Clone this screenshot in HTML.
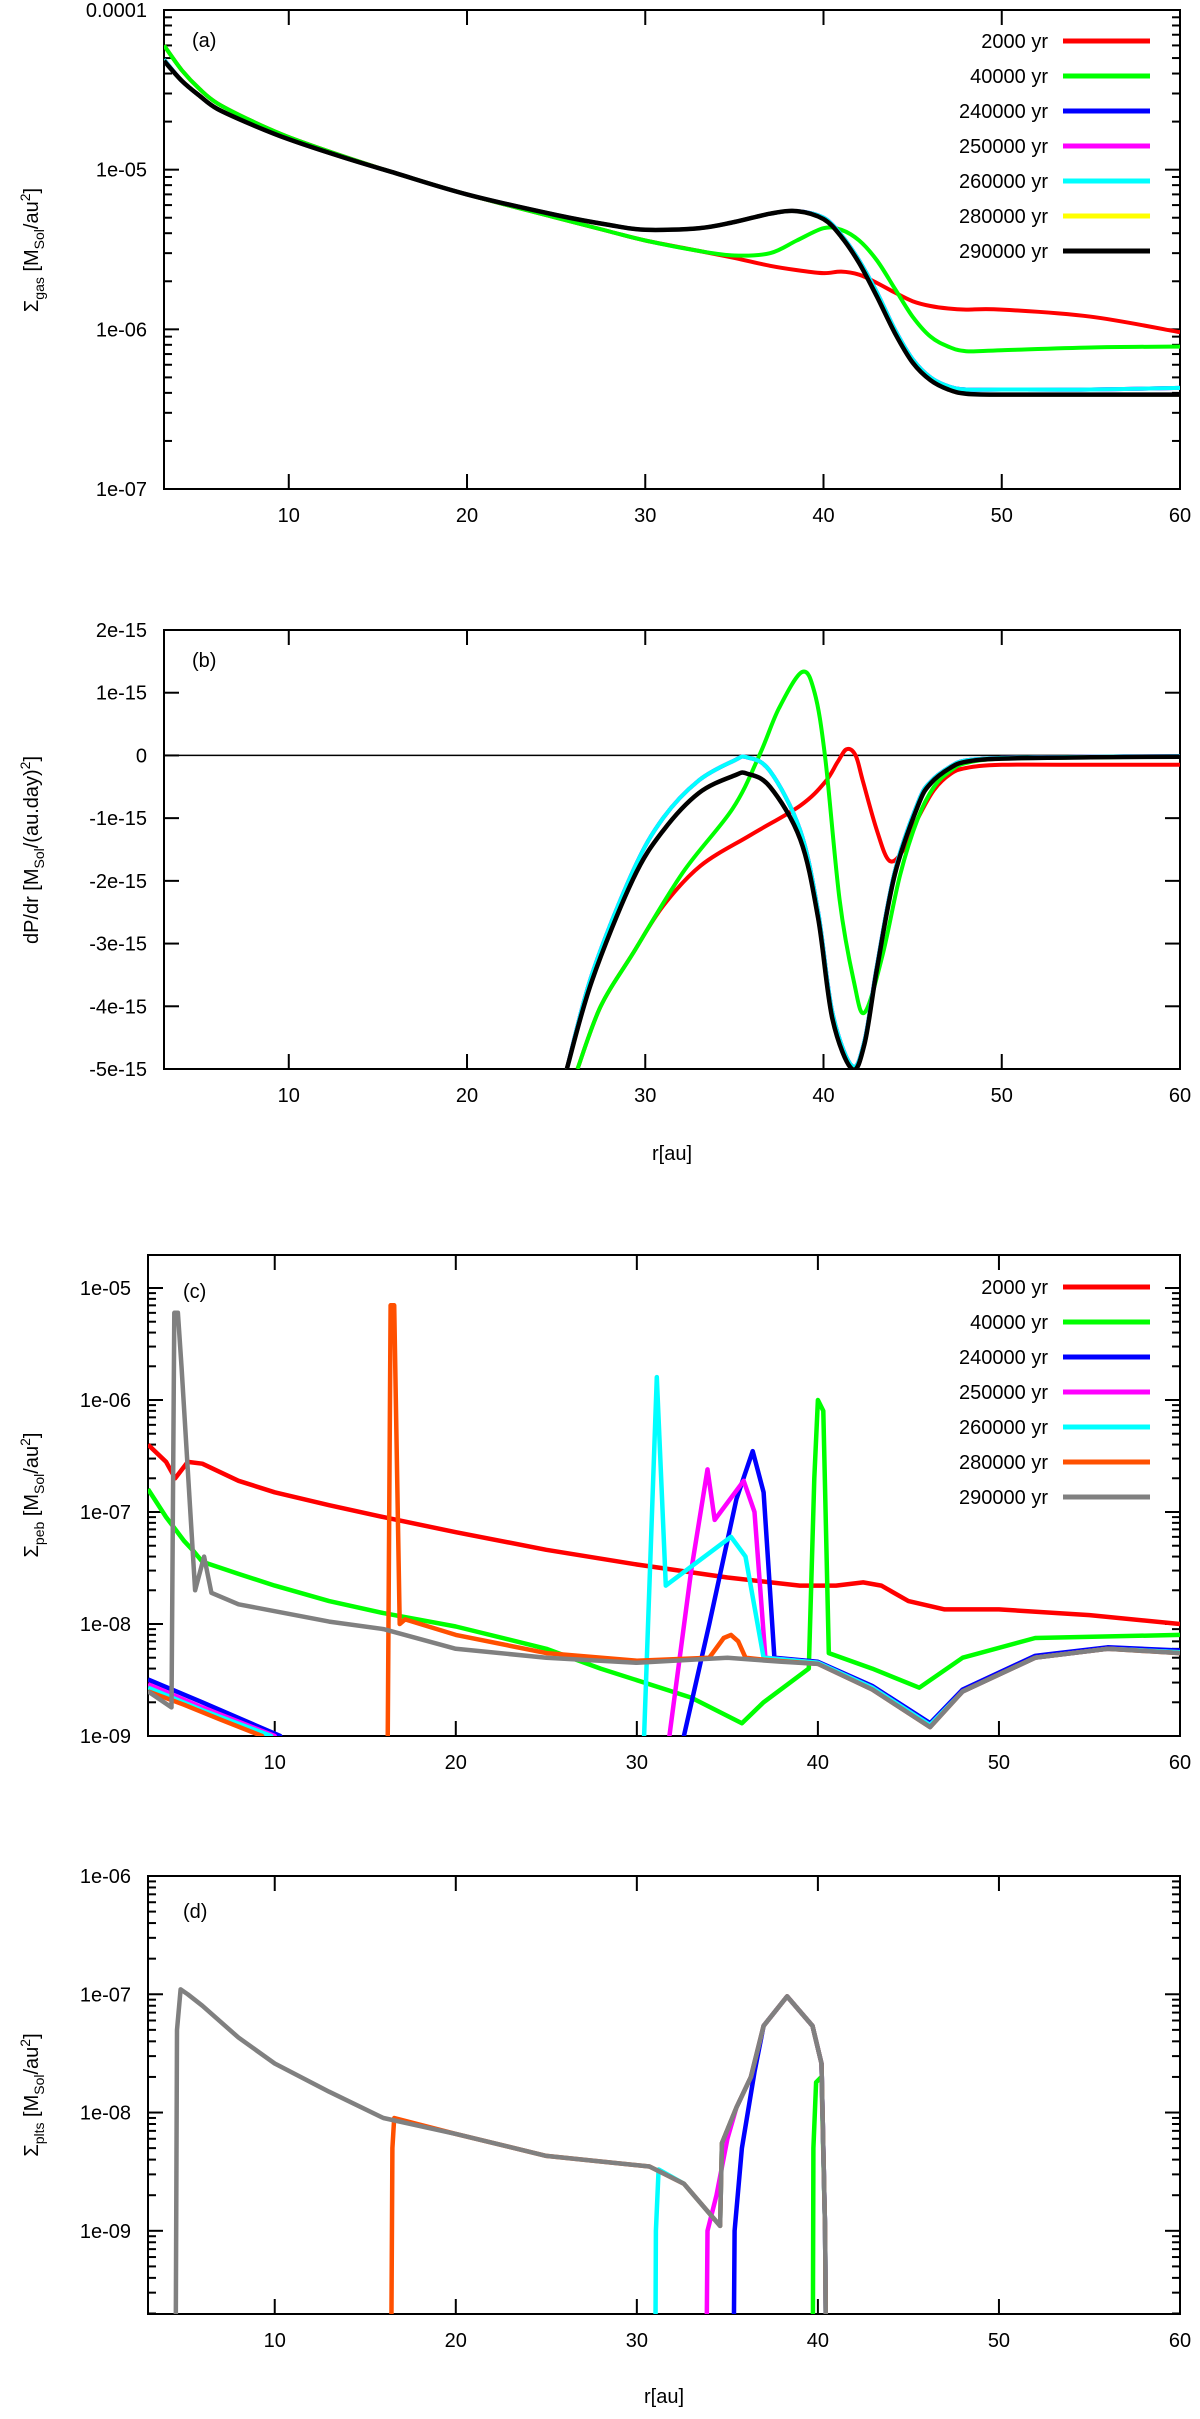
<!DOCTYPE html>
<html>
<head>
<meta charset="utf-8">
<style>
html,body{margin:0;padding:0;background:#fff;}
svg{display:block;font-family:"Liberation Sans",sans-serif;}
</style>
</head>
<body>
<svg id="fig" width="1200" height="2419" viewBox="0 0 1200 2419" xmlns="http://www.w3.org/2000/svg">
<defs>
<clipPath id="clipA"><rect x="164" y="10" width="1016" height="479"/></clipPath>
<clipPath id="clipB"><rect x="164" y="630" width="1016" height="439"/></clipPath>
<clipPath id="clipC"><rect x="148" y="1255" width="1032" height="481"/></clipPath>
<clipPath id="clipD"><rect x="148" y="1876" width="1032" height="438"/></clipPath>
</defs>
<g font-size="20" fill="#000">
<text transform="translate(38,250) rotate(-90)" text-anchor="middle">Σ<tspan font-size="14" dy="6">gas</tspan><tspan dy="-6"> [M</tspan><tspan font-size="14" dy="6">Sol</tspan><tspan dy="-6">/au</tspan><tspan font-size="14" dy="-8">2</tspan><tspan dy="8">]</tspan></text>
<text transform="translate(38,850) rotate(-90)" text-anchor="middle">dP/dr [M<tspan font-size="14" dy="6">Sol</tspan><tspan dy="-6">/(au.day)</tspan><tspan font-size="14" dy="-8">2</tspan><tspan dy="8">]</tspan></text>
<text transform="translate(38,1495) rotate(-90)" text-anchor="middle">Σ<tspan font-size="14" dy="6">peb</tspan><tspan dy="-6"> [M</tspan><tspan font-size="14" dy="6">Sol</tspan><tspan dy="-6">/au</tspan><tspan font-size="14" dy="-8">2</tspan><tspan dy="8">]</tspan></text>
<text transform="translate(38,2095) rotate(-90)" text-anchor="middle">Σ<tspan font-size="14" dy="6">plts</tspan><tspan dy="-6"> [M</tspan><tspan font-size="14" dy="6">Sol</tspan><tspan dy="-6">/au</tspan><tspan font-size="14" dy="-8">2</tspan><tspan dy="8">]</tspan></text>
<text x="672" y="1160" text-anchor="middle">r[au]</text>
<text x="664" y="2403" text-anchor="middle">r[au]</text>
<text x="192" y="47">(a)</text>
<text x="192" y="667">(b)</text>
<text x="183" y="1298">(c)</text>
<text x="183" y="1918">(d)</text>
</g>
</svg>
<script>
// ---- panel (a) gas surface density ----
var aR = [3,4,5,6,8,10,13,16,20,25,28,30,33,35,37,38.5,40,41,42,43,44,45,46,47,48,50,55,60];
var aBlack = [4.8e-5,3.6e-5,2.9e-5,2.4e-5,1.9e-5,1.55e-5,1.2e-5,9.5e-6,7.0e-6,5.2e-6,4.5e-6,4.2e-6,4.3e-6,4.7e-6,5.3e-6,5.5e-6,4.9e-6,3.8e-6,2.6e-6,1.6e-6,9.5e-7,6.2e-7,4.8e-7,4.2e-7,3.95e-7,3.9e-7,3.9e-7,3.9e-7];
var aBlue = [4.9e-5,3.6e-5,2.9e-5,2.4e-5,1.9e-5,1.55e-5,1.2e-5,9.5e-6,7.0e-6,5.2e-6,4.5e-6,4.2e-6,4.3e-6,4.7e-6,5.3e-6,5.5e-6,5.0e-6,3.9e-6,2.7e-6,1.7e-6,1.0e-6,6.5e-7,5.0e-7,4.4e-7,4.2e-7,4.2e-7,4.2e-7,4.3e-7];
var aGreen = [6e-5,4.2e-5,3.2e-5,2.6e-5,2e-5,1.6e-5,1.22e-5,9.5e-6,7.0e-6,5.0e-6,4.1e-6,3.6e-6,3.1e-6,2.9e-6,3.0e-6,3.6e-6,4.3e-6,4.2e-6,3.6e-6,2.7e-6,1.8e-6,1.2e-6,9e-7,7.8e-7,7.3e-7,7.4e-7,7.7e-7,7.8e-7];
var aRed = [6e-5,4.2e-5,3.2e-5,2.6e-5,2e-5,1.6e-5,1.22e-5,9.5e-6,7.0e-6,5.0e-6,4.1e-6,3.6e-6,3.1e-6,2.8e-6,2.5e-6,2.35e-6,2.25e-6,2.3e-6,2.2e-6,1.95e-6,1.7e-6,1.5e-6,1.4e-6,1.35e-6,1.33e-6,1.33e-6,1.2e-6,9.6e-7];
// ---- panel (b) pressure gradient (units of 1e-15) ----
var bBlackR = [25.6,27,29.3,31,33,35,35.7,37,38.7,39.7,40.5,41.6,42.3,43,44,45.3,46,47.1,48,50,55,60];
var bBlack = [-5,-3.6,-1.98,-1.2,-0.6,-0.32,-0.29,-0.5,-1.34,-2.6,-4.2,-5.0,-4.6,-3.4,-1.9,-0.8,-0.45,-0.2,-0.1,-0.05,-0.03,-0.02];
var bBlue = [-5,-3.5,-1.85,-1.0,-0.4,-0.08,-0.03,-0.25,-1.2,-2.5,-4.1,-4.95,-4.55,-3.35,-1.85,-0.75,-0.42,-0.18,-0.08,-0.04,-0.02,-0.01];
var bGreenR = [26.2,27.5,29.3,32.1,34.9,36.4,37.5,38.8,39.5,40.1,40.9,41.7,42.3,43.3,44.3,45.3,46.2,47.1,48,50,55,60];
var bGreen = [-5,-4.0,-3.16,-1.87,-0.85,0,0.75,1.33,1.0,-0.05,-2.3,-3.6,-4.1,-3.2,-1.9,-1.0,-0.5,-0.25,-0.12,-0.05,-0.03,-0.02];
var bRedR = [26.2,27.5,29.3,31,33.1,35.9,38.7,40.1,40.8,41.3,41.8,42.2,43,43.7,44.5,45.3,46.2,47.1,48,50,55,60];
var bRed = [-5,-4.0,-3.16,-2.4,-1.76,-1.27,-0.8,-0.42,-0.1,0.1,0,-0.4,-1.2,-1.68,-1.5,-1.0,-0.55,-0.3,-0.2,-0.15,-0.15,-0.15];
// ---- panel (c) pebble surface density ----
var cRedR = [3,4,4.5,5.2,6,8,10,13,16,20,25,30,35,39,41,42.5,43.5,45,47,50,55,60];
var cRed = [4e-7,2.8e-7,2e-7,2.8e-7,2.7e-7,1.9e-7,1.5e-7,1.15e-7,9e-8,6.6e-8,4.6e-8,3.4e-8,2.6e-8,2.2e-8,2.2e-8,2.35e-8,2.2e-8,1.6e-8,1.35e-8,1.35e-8,1.2e-8,1e-8];
var cGreenR = [3,4,5,5.5,6,8,10,13,16,20,25,28,33,35.8,37,39.5,39.8,40.0,40.3,40.6,43,45.6,48,52,60];
var cGreen = [1.6e-7,9e-8,5.5e-8,4.5e-8,3.6e-8,2.8e-8,2.2e-8,1.6e-8,1.25e-8,9.5e-9,6e-9,4e-9,2.2e-9,1.3e-9,2e-9,4e-9,2e-7,1e-6,8e-7,5.5e-9,4e-9,2.7e-9,5e-9,7.5e-9,8e-9];
var cBlueR = [3,6,10.3,11,32,32.6,34,35.5,36.4,37,37.6,40,43,46.2,48,52,56,60];
var cBlue = [3.2e-9,2e-9,1e-9,1e-10,1e-10,1e-9,1e-8,1.3e-7,3.5e-7,1.5e-7,5e-9,4.6e-9,2.8e-9,1.3e-9,2.6e-9,5.2e-9,6.2e-9,5.8e-9];
var cMagentaR = [3,6,10,10.6,31.5,31.8,33,33.9,34.3,35.9,36.5,37.1,40,43,46.2,48,52,56,60];
var cMagenta = [2.9e-9,1.8e-9,1e-9,1e-10,1e-10,1e-9,3e-8,2.4e-7,8.5e-8,1.9e-7,1e-7,5e-9,4.5e-9,2.7e-9,1.25e-9,2.5e-9,5e-9,6e-9,5.6e-9];
var cCyanR = [3,6,9.8,10.4,30.2,30.4,31.1,31.6,35.2,36,37,40,43,46.2,48,52,56,60];
var cCyan = [2.7e-9,1.7e-9,1e-9,1e-10,1e-10,1e-9,1.6e-6,2.2e-8,6e-8,4e-8,5e-9,4.5e-9,2.7e-9,1.25e-9,2.5e-9,5e-9,6e-9,5.6e-9];
var cOrangeR = [3,5,7,9.3,10,16.2,16.4,16.6,16.9,17.2,20,25,30,34,34.8,35.2,35.6,36,37,40,43,46.2,48,52,56,60];
var cOrange = [2.5e-9,1.9e-9,1.4e-9,1e-9,1e-10,1e-10,7e-6,7e-6,1e-8,1.1e-8,8e-9,5.5e-9,4.7e-9,5e-9,7.5e-9,8e-9,7e-9,5e-9,4.8e-9,4.4e-9,2.6e-9,1.2e-9,2.5e-9,5e-9,6e-9,5.5e-9];
var cGrayR = [3,4.3,4.45,4.65,4.85,5.6,6.1,6.5,8,10,13,16,20,25,30,33,35,38,40,43,46.2,48,52,56,60];
var cGray = [2.5e-9,1.8e-9,6e-6,6e-6,2e-6,2e-8,4e-8,1.9e-8,1.5e-8,1.3e-8,1.05e-8,9e-9,6e-9,5e-9,4.5e-9,4.8e-9,5e-9,4.6e-9,4.4e-9,2.6e-9,1.2e-9,2.5e-9,5e-9,6e-9,5.5e-9];
// ---- panel (d) planetesimal surface density ----
var dGreenR = [39.7,39.75,39.9,40.2,40.4,40.5];
var dGreen = [1e-11,5e-9,1.8e-8,2e-8,1e-9,1e-11];
var dBlueR = [35.3,35.4,35.8,36.5,37,38.3,39.7,40.2,40.4,40.5];
var dBlue = [1e-11,1e-9,5e-9,2.2e-8,5.4e-8,9.6e-8,5.4e-8,2.6e-8,1e-9,1e-11];
var dMagentaR = [33.8,33.9,34.4,35,35.5,36.3,37,38.3,39.7,40.2,40.4,40.5];
var dMagenta = [1e-11,1e-9,2e-9,6e-9,1.1e-8,2e-8,5.4e-8,9.6e-8,5.4e-8,2.6e-8,1e-9,1e-11];
var dCyanR = [31.0,31.05,31.2,32.6,34.6,34.7,35.5,36.3,37,38.3,39.7,40.2,40.4,40.5];
var dCyan = [1e-11,1e-9,3.3e-9,2.5e-9,1.1e-9,5.5e-9,1.1e-8,2e-8,5.4e-8,9.6e-8,5.4e-8,2.6e-8,1e-9,1e-11];
var dOrangeR = [16.4,16.5,16.6,20,25,30.7,32.6,34.6,34.7,35.5,36.3,37,38.3,39.7,40.2,40.4,40.5];
var dOrange = [1e-11,5e-9,9e-9,6.6e-9,4.3e-9,3.5e-9,2.5e-9,1.1e-9,5.5e-9,1.1e-8,2e-8,5.4e-8,9.6e-8,5.4e-8,2.6e-8,1e-9,1e-11];
var dGrayR = [4.5,4.6,4.8,5.2,6,8,10,13,16,20,25,30.7,32.6,34.6,34.7,35.5,36.3,37,38.3,39.7,40.2,40.4,40.5];
var dGray = [1e-11,5e-8,1.1e-7,1e-7,8e-8,4.3e-8,2.6e-8,1.5e-8,9e-9,6.6e-9,4.3e-9,3.5e-9,2.5e-9,1.1e-9,5.5e-9,1.1e-8,2e-8,5.4e-8,9.6e-8,5.4e-8,2.6e-8,1e-9,1e-11];
// ---- tick labels & legend ----
var xTicks = [10,20,30,40,50,60];
var aYTicks = ["0.0001","1e-05","1e-06","1e-07"];
var bYTicks = [2,1,0,-1,-2,-3,-4,-5];
var bYTickLabels = ["2e-15","1e-15","0","-1e-15","-2e-15","-3e-15","-4e-15","-5e-15"];
var cYTicks = ["1e-05","1e-06","1e-07","1e-08","1e-09"];
var dYTicks = ["1e-06","1e-07","1e-08","1e-09"];
var legendLabels = ["2000 yr","40000 yr","240000 yr","250000 yr","260000 yr","280000 yr","290000 yr"];

var NS = "http://www.w3.org/2000/svg";
var svg = document.getElementById("fig");
function mk(tag, attrs, parent) {
  var e = document.createElementNS(NS, tag);
  for (var k in attrs) e.setAttribute(k, attrs[k]);
  (parent || svg).appendChild(e);
  return e;
}
function linX(x0, x1) { return function (r) { return x0 + (r - 3) / 57 * (x1 - x0); }; }
function logY(top, bottom, lmax, lmin) { return function (v) { return top + (lmax - Math.log10(v)) / (lmax - lmin) * (bottom - top); }; }
function linY(top, bottom, vmax, vmin) { return function (v) { return top + (vmax - v) / (vmax - vmin) * (bottom - top); }; }

function drawSeries(rs, vs, X, Y, color, clip, name, w, smooth) {
  var P = [];
  for (var i = 0; i < rs.length; i++) P.push([X(rs[i]), Y(vs[i])]);
  var d = "M" + P[0][0].toFixed(1) + " " + P[0][1].toFixed(1);
  for (var j = 1; j < P.length; j++) {
    if (smooth) {
      var p0 = P[Math.max(j - 2, 0)], p1 = P[j - 1], p2 = P[j], p3 = P[Math.min(j + 1, P.length - 1)];
      var c1x = p1[0] + (p2[0] - p0[0]) / 6, c1y = p1[1] + (p2[1] - p0[1]) / 6;
      var c2x = p2[0] - (p3[0] - p1[0]) / 6, c2y = p2[1] - (p3[1] - p1[1]) / 6;
      d += "C" + c1x.toFixed(1) + " " + c1y.toFixed(1) + " " + c2x.toFixed(1) + " " + c2y.toFixed(1) + " " + p2[0].toFixed(1) + " " + p2[1].toFixed(1);
    } else {
      d += "L" + P[j][0].toFixed(1) + " " + P[j][1].toFixed(1);
    }
  }
  var p = mk("path", {d: d, fill: "none", stroke: color, "stroke-width": w || 4, "stroke-linejoin": "round", "clip-path": "url(#" + clip + ")"});
  
  
}

function frame(x0, y0, x1, y1, name) {
  var r = mk("rect", {x: x0, y: y0, width: x1 - x0, height: y1 - y0, fill: "none", stroke: "#000", "stroke-width": 2});
  
  
}
function xAxis(X, y0, y1, showLabels, name) {
  var g = mk("g", {});
  
  
  for (var i = 0; i < xTicks.length; i++) {
    var x = X(xTicks[i]);
    if (xTicks[i] < 60) {
      mk("line", {x1: x, y1: y1, x2: x, y2: y1 - 15, stroke: "#000", "stroke-width": 2}, g);
      mk("line", {x1: x, y1: y0, x2: x, y2: y0 + 15, stroke: "#000", "stroke-width": 2}, g);
    }
    var t = mk("text", {x: x, y: y1 + 33, "text-anchor": "middle", "font-size": 20}, g);
    t.textContent = xTicks[i];
  }
}
function logYAxis(x0, x1, Y, lmax, lmin, labels, labelX, name) {
  var g = mk("g", {});
  
  
  for (var d = Math.floor(lmin); d <= Math.ceil(lmax); d++) {
    for (var m = 1; m <= 9; m++) {
      var l = d + Math.log10(m);
      if (l < lmin - 1e-6 || l > lmax + 1e-6) continue;
      var len = m === 1 ? 15 : 8;
      var y = Y(Math.pow(10, l));
      mk("line", {x1: x0, y1: y, x2: x0 + len, y2: y, stroke: "#000", "stroke-width": 2}, g);
      mk("line", {x1: x1, y1: y, x2: x1 - len, y2: y, stroke: "#000", "stroke-width": 2}, g);
    }
  }
  for (var i = 0; i < labels.length; i++) {
    var yy = Y(parseFloat(labels[i]));
    var t = mk("text", {x: labelX, y: yy + 7, "text-anchor": "end", "font-size": 20}, g);
    t.textContent = labels[i];
  }
}
function legend(x, y0, colors, name) {
  var g = mk("g", {});
  
  
  for (var i = 0; i < legendLabels.length; i++) {
    var y = y0 + i * 35;
    var e = mk("g", {}, g);
    
    
    var t = mk("text", {x: x, y: y + 7, "text-anchor": "end", "font-size": 20}, e);
    t.textContent = legendLabels[i];
    mk("line", {x1: x + 15, y1: y, x2: x + 102, y2: y, stroke: colors[i], "stroke-width": 5}, e);
  }
}

// Panel (a)
(function () {
  var X = linX(164, 1180), Y = logY(10, 489, -4, -7);
  frame(164, 10, 1180, 489, "plot-frame-a");
  xAxis(X, 10, 489, true, "x-axis-a");
  logYAxis(164, 1180, Y, -4, -7, aYTicks, 147, "y-axis-a");
  drawSeries(aR, aRed, X, Y, "#ff0000", "clipA", "series-a-2000yr", 4, true);
  drawSeries(aR, aGreen, X, Y, "#00ff00", "clipA", "series-a-40000yr", 4, true);
  drawSeries(aR, aBlue, X, Y, "#0000ff", "clipA", "series-a-240000yr", 4, true);
  drawSeries(aR, aBlue, X, Y, "#ff00ff", "clipA", "series-a-250000yr", 4, true);
  drawSeries(aR, aBlue, X, Y, "#00ffff", "clipA", "series-a-260000yr", 4, true);
  drawSeries(aR, aBlack, X, Y, "#ffff00", "clipA", "series-a-280000yr", 4, true);
  drawSeries(aR, aBlack, X, Y, "#000000", "clipA", "series-a-290000yr", 4.5, true);
  legend(1048, 41, ["#ff0000","#00ff00","#0000ff","#ff00ff","#00ffff","#ffff00","#000000"], "legend-a");
})();

// Panel (b)
(function () {
  var X = linX(164, 1180), Y = linY(630, 1069, 2, -5);
  frame(164, 630, 1180, 1069, "plot-frame-b");
  xAxis(X, 630, 1069, true, "x-axis-b");
  var g = mk("g", {});
  
  
  for (var i = 0; i < bYTicks.length; i++) {
    var y = Y(bYTicks[i]);
    mk("line", {x1: 164, y1: y, x2: 179, y2: y, stroke: "#000", "stroke-width": 2}, g);
    mk("line", {x1: 1180, y1: y, x2: 1165, y2: y, stroke: "#000", "stroke-width": 2}, g);
    var t = mk("text", {x: 147, y: y + 7, "text-anchor": "end", "font-size": 20}, g);
    t.textContent = bYTickLabels[i];
  }
  var z = mk("line", {x1: 164, y1: Y(0), x2: 1180, y2: Y(0), stroke: "#000", "stroke-width": 1.5});
  
  
  drawSeries(bRedR, bRed, X, Y, "#ff0000", "clipB", "series-b-2000yr", 4, true);
  drawSeries(bGreenR, bGreen, X, Y, "#00ff00", "clipB", "series-b-40000yr", 4, true);
  drawSeries(bBlackR, bBlue, X, Y, "#0000ff", "clipB", "series-b-240000yr", 4, true);
  drawSeries(bBlackR, bBlue, X, Y, "#ff00ff", "clipB", "series-b-250000yr", 4, true);
  drawSeries(bBlackR, bBlue, X, Y, "#00ffff", "clipB", "series-b-260000yr", 4, true);
  drawSeries(bBlackR, bBlack, X, Y, "#ffff00", "clipB", "series-b-280000yr", 4, true);
  drawSeries(bBlackR, bBlack, X, Y, "#000000", "clipB", "series-b-290000yr", 4.5, true);
})();

// Panel (c)
(function () {
  var lmax = -5 + (1288 - 1255) / 112;
  var X = linX(148, 1180), Y = logY(1255, 1736, lmax, -9);
  frame(148, 1255, 1180, 1736, "plot-frame-c");
  xAxis(X, 1255, 1736, true, "x-axis-c");
  logYAxis(148, 1180, Y, lmax, -9, cYTicks, 131, "y-axis-c");
  drawSeries(cRedR, cRed, X, Y, "#ff0000", "clipC", "series-c-2000yr", 4.5);
  drawSeries(cGreenR, cGreen, X, Y, "#00ff00", "clipC", "series-c-40000yr", 4.5);
  drawSeries(cBlueR, cBlue, X, Y, "#0000ff", "clipC", "series-c-240000yr", 4.5);
  drawSeries(cMagentaR, cMagenta, X, Y, "#ff00ff", "clipC", "series-c-250000yr", 4.5);
  drawSeries(cCyanR, cCyan, X, Y, "#00ffff", "clipC", "series-c-260000yr", 4.5);
  drawSeries(cOrangeR, cOrange, X, Y, "#ff5000", "clipC", "series-c-280000yr", 4.5);
  drawSeries(cGrayR, cGray, X, Y, "#808080", "clipC", "series-c-290000yr", 4.5);
  legend(1048, 1287, ["#ff0000","#00ff00","#0000ff","#ff00ff","#00ffff","#ff5000","#808080"], "legend-c");
})();

// Panel (d)
(function () {
  var lmin = -9 - (2314 - 2231) / 118;
  var X = linX(148, 1180), Y = logY(1876, 2314, -6, lmin);
  frame(148, 1876, 1180, 2314, "plot-frame-d");
  xAxis(X, 1876, 2314, true, "x-axis-d");
  logYAxis(148, 1180, Y, -6, lmin, dYTicks, 131, "y-axis-d");
  drawSeries(dGreenR, dGreen, X, Y, "#00ff00", "clipD", "series-d-40000yr", 4.5);
  drawSeries(dBlueR, dBlue, X, Y, "#0000ff", "clipD", "series-d-240000yr", 4.5);
  drawSeries(dMagentaR, dMagenta, X, Y, "#ff00ff", "clipD", "series-d-250000yr", 4.5);
  drawSeries(dCyanR, dCyan, X, Y, "#00ffff", "clipD", "series-d-260000yr", 4.5);
  drawSeries(dOrangeR, dOrange, X, Y, "#ff5000", "clipD", "series-d-280000yr", 4.5);
  drawSeries(dGrayR, dGray, X, Y, "#808080", "clipD", "series-d-290000yr", 4.5);
})();
</script>
</body>
</html>
